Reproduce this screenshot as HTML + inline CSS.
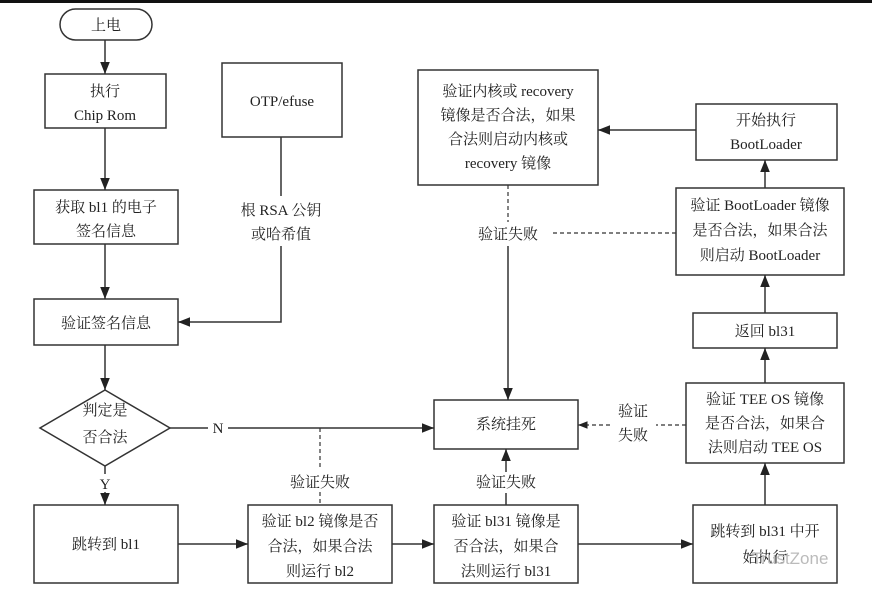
<!DOCTYPE html>
<html><head><meta charset="utf-8"><style>
body{margin:0;background:#fff}
svg text{font-family:"Liberation Serif","Noto Serif CJK SC",serif;font-size:15px;fill:#222;text-anchor:middle}
</style></head><body>
<svg width="872" height="595" viewBox="0 0 872 595" xmlns="http://www.w3.org/2000/svg">
<defs><marker id="a" viewBox="0 0 10 10" refX="10" refY="5" markerWidth="8" markerHeight="8" orient="auto"><path d="M0,1 L10,5 L0,9 Z" fill="#222"/></marker></defs>
<rect x="0" y="0" width="872" height="3" fill="#111"/>
<g fill="none" stroke="#333" stroke-width="1.5">
<rect x="60" y="9" width="92" height="31" rx="15.5"/>
<rect x="45" y="74" width="121" height="54"/>
<rect x="222" y="63" width="120" height="74"/>
<rect x="34" y="190" width="144" height="54"/>
<rect x="34" y="299" width="144" height="46"/>
<path d="M105,390 L170,428 L105,466 L40,428 Z"/>
<rect x="34" y="505" width="144" height="78"/>
<rect x="248" y="505" width="144" height="78"/>
<rect x="434" y="505" width="144" height="78"/>
<rect x="693" y="505" width="144" height="78"/>
<rect x="686" y="383" width="158" height="80"/>
<rect x="693" y="313" width="144" height="35"/>
<rect x="676" y="188" width="168" height="87"/>
<rect x="696" y="104" width="141" height="56"/>
<rect x="418" y="70" width="180" height="115"/>
<rect x="434" y="400" width="144" height="49"/>
</g>
<g fill="none" stroke="#333" stroke-width="1.5">
<line x1="105" y1="40" x2="105" y2="74" marker-end="url(#a)"/>
<line x1="105" y1="128" x2="105" y2="190" marker-end="url(#a)"/>
<line x1="105" y1="244" x2="105" y2="299" marker-end="url(#a)"/>
<line x1="105" y1="345" x2="105" y2="390" marker-end="url(#a)"/>
<line x1="105" y1="466" x2="105" y2="474"/>
<line x1="105" y1="492" x2="105" y2="505" marker-end="url(#a)"/>
<line x1="281" y1="137" x2="281" y2="196"/>
<polyline points="281,246 281,322 178,322" marker-end="url(#a)"/>
<line x1="170" y1="428" x2="208" y2="428"/>
<line x1="228" y1="428" x2="434" y2="428" marker-end="url(#a)"/>
<line x1="178" y1="544" x2="248" y2="544" marker-end="url(#a)"/>
<line x1="392" y1="544" x2="434" y2="544" marker-end="url(#a)"/>
<line x1="578" y1="544" x2="693" y2="544" marker-end="url(#a)"/>
<line x1="506" y1="505" x2="506" y2="493"/>
<line x1="506" y1="472" x2="506" y2="449" marker-end="url(#a)"/>
<line x1="765" y1="505" x2="765" y2="463" marker-end="url(#a)"/>
<line x1="765" y1="383" x2="765" y2="348" marker-end="url(#a)"/>
<line x1="765" y1="313" x2="765" y2="275" marker-end="url(#a)"/>
<line x1="765" y1="188" x2="765" y2="160" marker-end="url(#a)"/>
<line x1="696" y1="130" x2="598" y2="130" marker-end="url(#a)"/>
<line x1="508" y1="246" x2="508" y2="400" marker-end="url(#a)"/>
</g>
<g fill="none" stroke="#333" stroke-width="1.2" stroke-dasharray="4,3">
<line x1="508" y1="185" x2="508" y2="222"/>
<line x1="676" y1="233" x2="550" y2="233"/>
<line x1="320" y1="428" x2="320" y2="470"/>
<line x1="320" y1="492" x2="320" y2="505"/>
<line x1="686" y1="425" x2="656" y2="425"/>
<line x1="610" y1="425" x2="578" y2="425" marker-end="url(#a)"/>
</g>
<text x="106" y="30">上电</text>
<text x="105" y="96">执行</text>
<text x="105" y="120">Chip Rom</text>
<text x="282" y="106">OTP/efuse</text>
<text x="106" y="212">获取 bl1 的电子</text>
<text x="106" y="236">签名信息</text>
<text x="281" y="215">根 RSA 公钥</text>
<text x="281" y="239">或哈希值</text>
<text x="106" y="328">验证签名信息</text>
<text x="105" y="415">判定是</text>
<text x="105" y="442">否合法</text>
<text x="218" y="433">N</text>
<text x="105" y="489">Y</text>
<text x="320" y="487">验证失败</text>
<text x="106" y="549">跳转到 bl1</text>
<text x="320" y="526">验证 bl2 镜像是否</text>
<text x="320" y="551">合法，如果合法</text>
<text x="320" y="576">则运行 bl2</text>
<text x="506" y="526">验证 bl31 镜像是</text>
<text x="506" y="551">否合法，如果合</text>
<text x="506" y="576">法则运行 bl31</text>
<text x="506" y="487">验证失败</text>
<text x="765" y="536">跳转到 bl31 中开</text>
<text x="765" y="562">始执行</text>
<text x="506" y="429">系统挂死</text>
<text x="633" y="416">验证</text>
<text x="633" y="440">失败</text>
<text x="765" y="404">验证 TEE OS 镜像</text>
<text x="765" y="428">是否合法，如果合</text>
<text x="765" y="452">法则启动 TEE OS</text>
<text x="765" y="336">返回 bl31</text>
<text x="760" y="210">验证 BootLoader 镜像</text>
<text x="760" y="235">是否合法，如果合法</text>
<text x="760" y="260">则启动 BootLoader</text>
<text x="766" y="125">开始执行</text>
<text x="766" y="149">BootLoader</text>
<text x="508" y="96">验证内核或 recovery</text>
<text x="508" y="120">镜像是否合法，如果</text>
<text x="508" y="144">合法则启动内核或</text>
<text x="508" y="168">recovery 镜像</text>
<text x="508" y="239">验证失败</text>
<text x="790" y="564" style="font-family:'Liberation Sans',sans-serif;font-size:17px;fill:#bbb">TrustZone</text>
</svg>
</body></html>
